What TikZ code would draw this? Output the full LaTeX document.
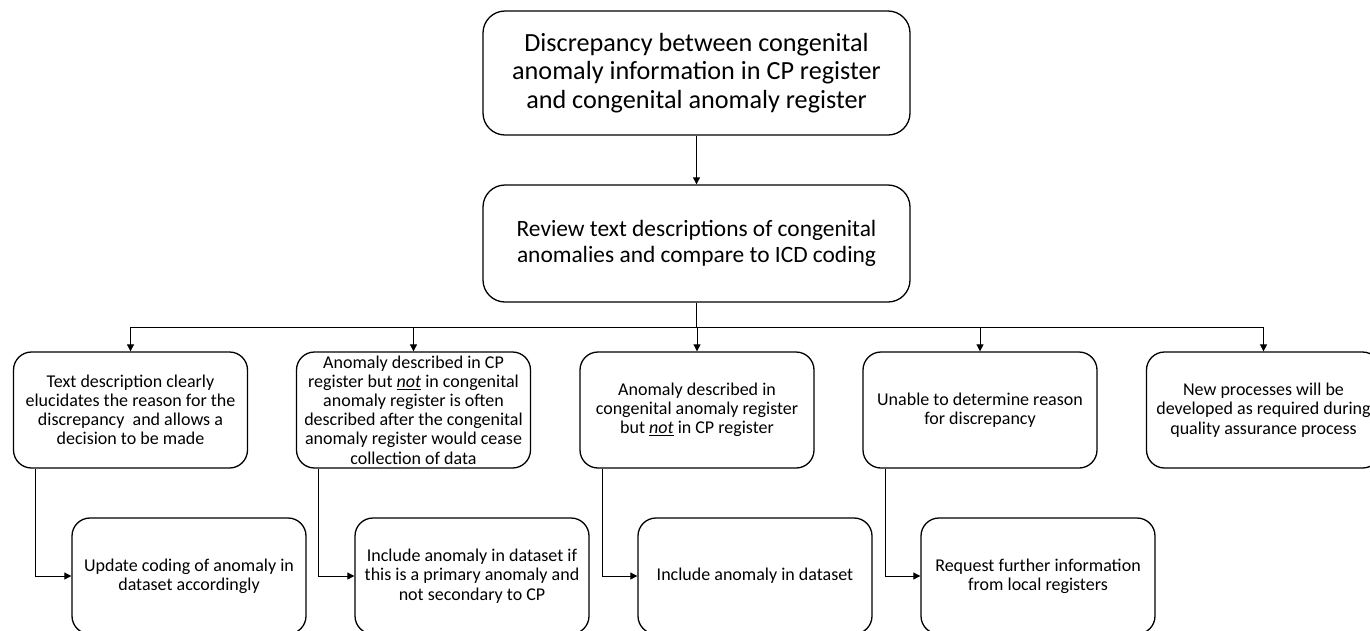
\documentclass[tikz,border=0pt]{standalone}
\usepackage{fontspec}
\setmainfont{Carlito}
\usetikzlibrary{arrows.meta}
\begin{document}
\begin{tikzpicture}[x=1pt,y=-1pt,
  bigbox/.style={draw,line width=1.3pt,rounded corners=22pt,align=center,inner sep=0pt,minimum width=427pt},
  rowbox/.style={draw,line width=1.3pt,rounded corners=18pt,align=center,inner sep=0pt,minimum width=234pt,minimum height=116pt,font=\fontsize{18}{19.2}\selectfont},
  conn/.style={line width=0.8pt},
  arr/.style={conn,-{Triangle[length=7pt,width=7pt]}}
]
\useasboundingbox (0,0) rectangle (1370,630);
\begin{scope}
\clip (0,0) rectangle (1370,630);
\node[bigbox,minimum height=124pt,font=\fontsize{26.2}{28.5}\selectfont] (top) at (696.5,73)
  {Discrepancy between congenital\\anomaly information in CP register\\and congenital anomaly register};
\node[bigbox,minimum height=117pt,font=\fontsize{23.4}{25.5}\selectfont] (rev) at (696.5,243.5)
  {Review text descriptions of congenital\\anomalies and compare to ICD coding};

\node[rowbox] (a1) at (130.5,410) {Text description clearly\\elucidates the reason for the\\discrepancy\ \ and allows a\\decision to be made};
\node[rowbox] (a2) at (413.5,410) {Anomaly described in CP\\register but \underline{\textit{not}} in congenital\\anomaly register is often\\described after the congenital\\anomaly register would cease\\collection of data};
\node[rowbox] (a3) at (697,410) {Anomaly described in\\congenital anomaly register\\but \underline{\textit{not}} in CP register};
\node[rowbox] (a4) at (980,410) {Unable to determine reason\\for discrepancy};
\node[rowbox] (a5) at (1263.5,410) {New processes will be\\developed as required during\\quality assurance process};

\node[rowbox] (b1) at (189,576) {Update coding of anomaly in\\dataset accordingly};
\node[rowbox] (b2) at (472,576) {Include anomaly in dataset if\\this is a primary anomaly and\\not secondary to CP};
\node[rowbox] (b3) at (755,576) {Include anomaly in dataset};
\node[rowbox] (b4) at (1038,576) {Request further information\\from local registers};

\draw[arr] (top.south) -- (rev.north);
\coordinate (bus) at (696.5,327);
\draw[conn] (rev.south) -- (bus);
\foreach \n in {a1,a2,a3,a4,a5}{
  \draw[arr] (bus) -| (\n.north);
}
\draw[arr] ([xshift=23pt]a1.south west) |- (b1.west);
\draw[arr] ([xshift=23pt]a2.south west) |- (b2.west);
\draw[arr] ([xshift=23pt]a3.south west) |- (b3.west);
\draw[arr] ([xshift=23pt]a4.south west) |- (b4.west);
\end{scope}
\end{tikzpicture}
\end{document}
